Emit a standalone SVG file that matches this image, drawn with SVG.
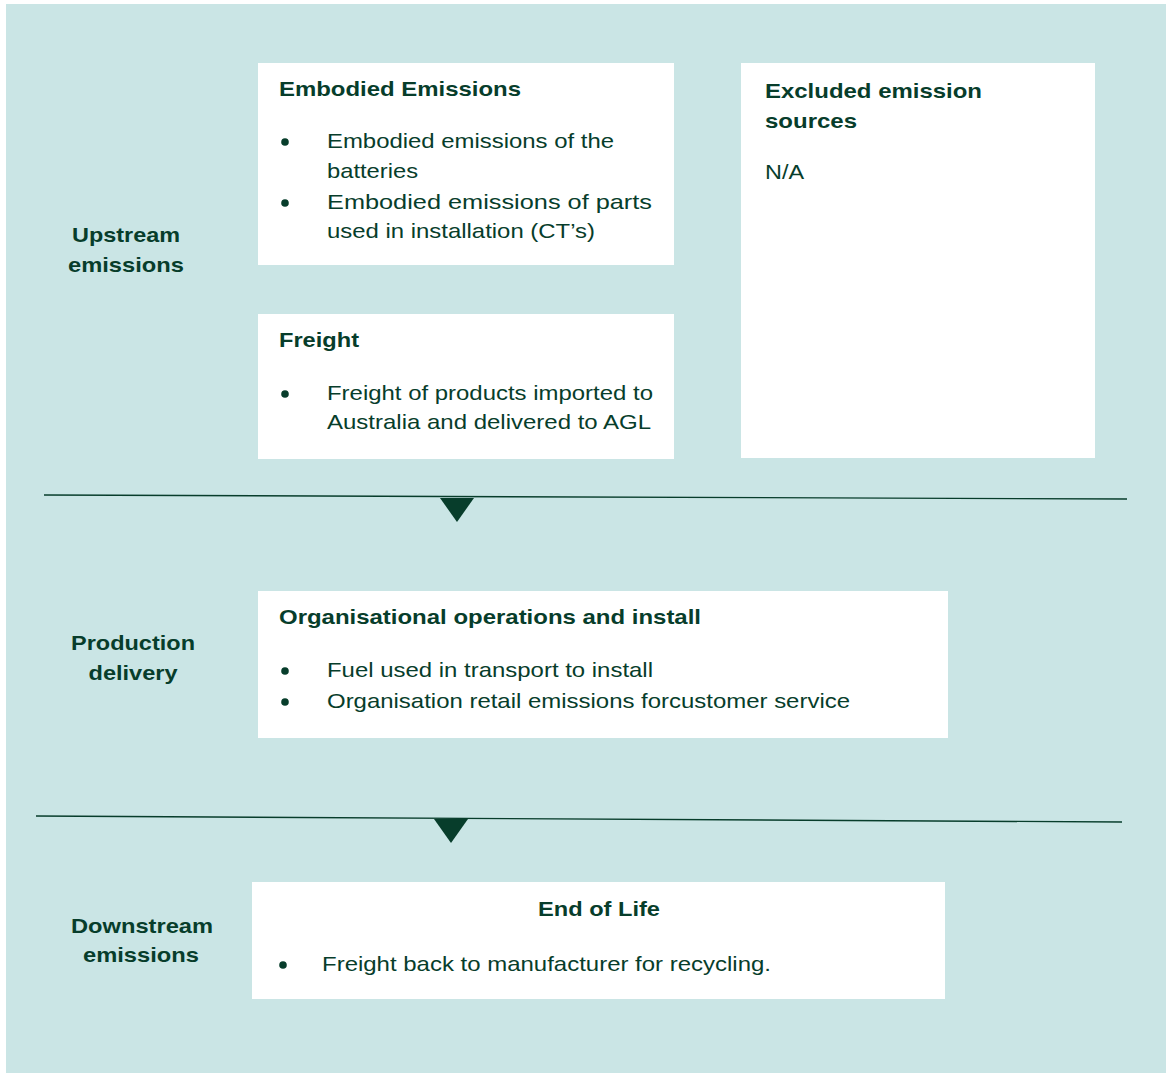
<svg xmlns="http://www.w3.org/2000/svg" width="1172" height="1075" viewBox="0 0 1172 1075">
<style>
.bg{fill:#cae5e5}
.box{fill:#ffffff}
text{font-family:"Liberation Sans",Arial,sans-serif;font-size:21px;fill:#073d2b}
.b{font-weight:bold}
.lbl{font-weight:bold;text-anchor:middle}
.sep{stroke:#073d2b;stroke-width:1.4;fill:none}
.tri{fill:#073d2b}
.dot{fill:#073d2b}
</style>
<rect class="bg" x="6" y="4" width="1160" height="1069"/>

<g id="connectors">
  <line class="sep" x1="44" y1="495" x2="1127" y2="499"/>
  <polygon class="tri" points="440,498 474,498 457,522"/>
  <line class="sep" x1="36" y1="816" x2="1122" y2="822"/>
  <polygon class="tri" points="434,819 468,819 451,843"/>
</g>

<g id="label-upstream">
  <text class="lbl" x="126" y="242" textLength="108" lengthAdjust="spacingAndGlyphs">Upstream</text>
  <text class="lbl" x="126" y="272" textLength="116" lengthAdjust="spacingAndGlyphs">emissions</text>
</g>
<g id="label-production">
  <text class="lbl" x="133" y="650" textLength="124" lengthAdjust="spacingAndGlyphs">Production</text>
  <text class="lbl" x="133" y="680" textLength="89" lengthAdjust="spacingAndGlyphs">delivery</text>
</g>
<g id="label-downstream">
  <text class="lbl" x="142" y="933" textLength="142" lengthAdjust="spacingAndGlyphs">Downstream</text>
  <text class="lbl" x="141" y="962" textLength="116" lengthAdjust="spacingAndGlyphs">emissions</text>
</g>

<g id="node-embodied">
  <rect class="box" x="258" y="63" width="416" height="202"/>
  <text class="b" x="279" y="96" textLength="242" lengthAdjust="spacingAndGlyphs">Embodied Emissions</text>
  <circle class="dot" cx="285" cy="142" r="3.8"/>
  <text x="327" y="148" textLength="287" lengthAdjust="spacingAndGlyphs">Embodied emissions of the</text>
  <text x="327" y="178" textLength="91" lengthAdjust="spacingAndGlyphs">batteries</text>
  <circle class="dot" cx="285" cy="203" r="3.8"/>
  <text x="327" y="209" textLength="325" lengthAdjust="spacingAndGlyphs">Embodied emissions of parts</text>
  <text x="327" y="238" textLength="268" lengthAdjust="spacingAndGlyphs">used in installation (CT’s)</text>
</g>

<g id="node-freight">
  <rect class="box" x="258" y="314" width="416" height="145"/>
  <text class="b" x="279" y="347" textLength="80" lengthAdjust="spacingAndGlyphs">Freight</text>
  <circle class="dot" cx="285" cy="394" r="3.8"/>
  <text x="327" y="400" textLength="326" lengthAdjust="spacingAndGlyphs">Freight of products imported to</text>
  <text x="327" y="429" textLength="324" lengthAdjust="spacingAndGlyphs">Australia and delivered to AGL</text>
</g>

<g id="node-excluded">
  <rect class="box" x="741" y="63" width="354" height="395"/>
  <text class="b" x="765" y="98" textLength="217" lengthAdjust="spacingAndGlyphs">Excluded emission</text>
  <text class="b" x="765" y="128" textLength="92" lengthAdjust="spacingAndGlyphs">sources</text>
  <text x="765" y="179" textLength="39" lengthAdjust="spacingAndGlyphs">N/A</text>
</g>

<g id="node-operations">
  <rect class="box" x="258" y="591" width="690" height="147"/>
  <text class="b" x="279" y="624" textLength="422" lengthAdjust="spacingAndGlyphs">Organisational operations and install</text>
  <circle class="dot" cx="285" cy="671" r="3.8"/>
  <text x="327" y="677" textLength="326" lengthAdjust="spacingAndGlyphs">Fuel used in transport to install</text>
  <circle class="dot" cx="285" cy="702" r="3.8"/>
  <text x="327" y="708" textLength="523" lengthAdjust="spacingAndGlyphs">Organisation retail emissions forcustomer service</text>
</g>

<g id="node-endoflife">
  <rect class="box" x="252" y="882" width="693" height="117"/>
  <text class="b" x="599" y="916" text-anchor="middle" textLength="122" lengthAdjust="spacingAndGlyphs">End of Life</text>
  <circle class="dot" cx="283" cy="965" r="3.8"/>
  <text x="322" y="971" textLength="449" lengthAdjust="spacingAndGlyphs">Freight back to manufacturer for recycling.</text>
</g>
</svg>
